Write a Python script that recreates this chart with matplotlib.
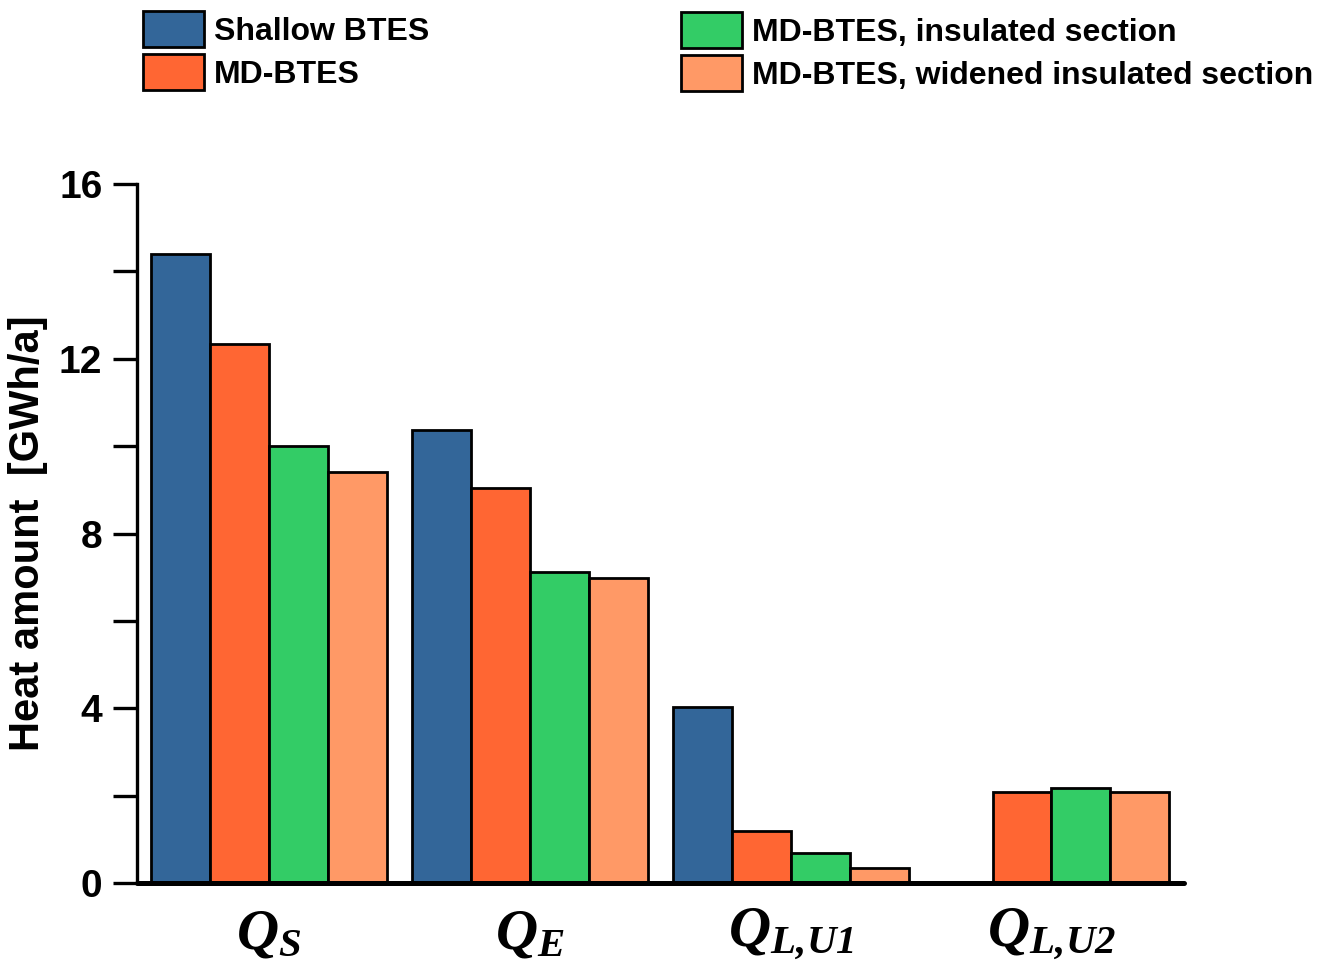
import matplotlib
matplotlib.use('Agg')
import matplotlib.pyplot as plt
import numpy as np

# ---- Data (GWh/a) ----
groups = [r'$Q_{S}$', r'$Q_{E}$', r'$Q_{L,\!U1}$', r'$Q_{L,\!U2}$']
series = ['Shallow BTES', 'MD-BTES', 'MD-BTES, insulated section',
          'MD-BTES, widened insulated section']
shallow = [14.40, 10.37, 4.03, 0.0]
md = [12.34, 9.04, 1.19, 2.08]
md_ins = [10.00, 7.12, 0.69, 2.17]
md_wide = [9.41, 6.98, 0.34, 2.08]
colors = ['#336699', '#FF6633', '#33CC66', '#FF9966']

plt.rcParams['font.family'] = ['Liberation Sans', 'DejaVu Sans']
plt.rcParams['font.weight'] = 'bold'
plt.rcParams['mathtext.fontset'] = 'custom'
plt.rcParams['mathtext.it'] = 'Liberation Serif:bold:italic'
plt.rcParams['mathtext.rm'] = 'Liberation Serif:bold:italic'

fig = plt.figure(figsize=(13.19, 9.71), dpi=100)
ax = fig.add_axes([0.1039, 0.0906, 0.7941, 0.7199])

x = np.arange(len(groups))
w = 0.226
handles = []
for i, (vals, c, lab) in enumerate(zip([shallow, md, md_ins, md_wide], colors, series)):
    b = ax.bar(x + (i - 1.5) * w, vals, w, color=c, edgecolor='black',
               linewidth=2.0, label=lab, zorder=2)
    handles.append(b)

ax.set_xlim(-0.506, 3.51)
ax.set_ylim(0, 16)
ax.set_yticks([0, 4, 8, 12, 16])
ax.set_yticks([2, 6, 10, 14], minor=True)
ax.set_xticks(x)
ax.set_xticklabels(groups, fontsize=42)
ax.tick_params(axis='x', length=0, pad=17)
ax.tick_params(axis='y', which='both', direction='out', length=17, width=2.4,
               labelsize=28, pad=8)
for t in ax.get_yticklabels():
    t.set_fontweight('bold')

ax.spines['top'].set_visible(False)
ax.spines['right'].set_visible(False)
ax.spines['left'].set_linewidth(2.4)
ax.spines['bottom'].set_linewidth(3.6)
ax.spines['bottom'].set_capstyle('round')
ax.spines['bottom'].set_zorder(3)

ax.set_ylabel('Heat amount  [GWh/a]', fontsize=30, fontweight='bold', labelpad=8)

leg_kw = dict(frameon=False, handlelength=1.9, handleheight=1.38,
              handletextpad=0.33, labelspacing=0.2, borderaxespad=0,
              borderpad=0, prop={'weight': 'bold', 'size': 23})
leg1 = fig.legend(handles[:2], series[:2], loc='upper left',
                  bbox_to_anchor=(143 / 1319, 1 - 11 / 971), **leg_kw)
leg2 = fig.legend(handles[2:], series[2:], loc='upper left',
                  bbox_to_anchor=(681 / 1319, 1 - 12 / 971), **leg_kw)

plt.savefig('out.png', dpi=100)
plt.close()
print('Done')
